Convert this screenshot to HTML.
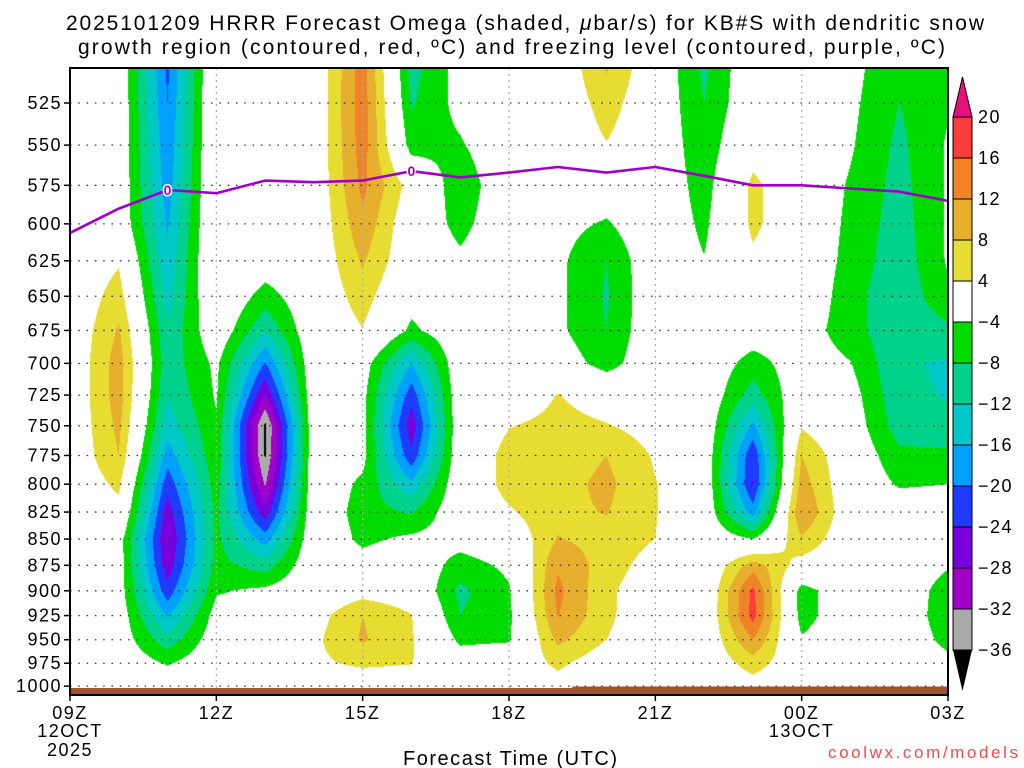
<!DOCTYPE html>
<html><head><meta charset="utf-8"><title>HRRR Omega</title>
<style>
html,body{margin:0;padding:0;background:#fff;}
#wrap{position:relative;width:1024px;height:768px;overflow:hidden;font-family:"Liberation Sans",sans-serif;}
#field{position:absolute;left:70px;top:68px;}
#ov{position:absolute;left:0;top:0;}
text{font-family:"Liberation Sans",sans-serif;fill:#000;}
.tk{letter-spacing:1.5px;}
</style></head>
<body>
<div id="wrap">
<canvas id="field" width="878" height="620"></canvas>
<svg id="ov" width="1024" height="768">
 <text x="66" y="30" font-size="21" textLength="918" lengthAdjust="spacing">2025101209 HRRR Forecast Omega (shaded, <tspan font-style="italic">μ</tspan>bar/s) for KB#S with dendritic snow</text>
 <text x="78" y="54" font-size="21" textLength="867" lengthAdjust="spacing">growth region (contoured, red, ºC) and freezing level (contoured, purple, ºC)</text>
 <g id="grid"></g>
 <g id="ground"></g>
 <g id="frz"></g>
 <g id="axes"></g>
 <g id="cbar"></g>
 <text x="403" y="765" font-size="20" textLength="214" lengthAdjust="spacing">Forecast Time (UTC)</text>
 <text x="828" y="758" font-size="17" textLength="190" lengthAdjust="spacing" style="fill:#f04a4a">coolwx.com/models</text>
</svg>
</div>
<script>
// ---- data ----
const hourLabels = ["09Z","10Z","11Z","12Z","13Z","14Z","15Z","16Z","17Z","18Z","19Z","20Z","21Z","22Z","23Z","00Z","01Z","02Z","03Z"];
const levels = [500,525,550,575,600,625,650,675,700,725,750,775,800,825,850,875,900,925,950,975,1000];
const yTickLabels = [525,550,575,600,625,650,675,700,725,750,775,800,825,850,875,900,925,950,975,1000];
const xTickHours = [0,3,6,9,12,15,18];
const xTickLabels = ["09Z","12Z","15Z","18Z","21Z","00Z","03Z"];
const cbarLevels = [20,16,12,8,4,-4,-8,-12,-16,-20,-24,-28,-32,-36];
// omega per hour column, values at levels 500..1000
const omega = [
 [0,0,0,0,0,0,0,0,0,0,0,0,0,0,0,0,0,0,0,0,0],
 [0,0,0,0,0,3.5,6,8.5,10,10,9,8,5,2.5,-1.5,-1.5,-1.5,-1,-1,0,0],
 [-21,-20,-19,-18,-16.5,-15,-13.5,-11.5,-10.5,-11.8,-14,-18,-22.5,-26,-28.2,-26.5,-22.5,-16.5,-10.5,-4.5,0],
 [2.5,2.5,2.5,2.5,2.5,2.5,1.5,0,-3,-3.5,-4.5,-5,-6,-7,-7,-6.5,-4.5,-2,-1,0,0],
 [0,0,0,0,0,-1,-6,-11.5,-20.3,-28,-37,-36.5,-32.5,-26.5,-18,-10,-3,0,0,0,0],
 [0,0,0,0,0,0,0,0,0,0,0,0,0,0,0,0,0,2,3,3,0],
 [14,14.3,14,13,11,8.5,6,3.8,-1.5,-2.5,-2.5,-2.5,-5,-6,-5,-2,2,8,8.5,5,0],
 [-10,-8.5,-6,2,0,0,-2,-5,-16,-22.5,-26.5,-23,-15,-8.5,-3,0,1,4.2,4.5,4.2,0],
 [-2,-2.5,-4.5,-7,-5.5,-3,0,0,0,0,0,0,0,0,-2,-6,-9,-8,-5,-1,0],
 [0,0,0,0,0,0,0,0,0,0,3.8,5.5,5.5,3.5,0,-3,-4.5,-5,-4.5,0,0],
 [0,0,0,0,-2.5,-3,-3,-3,-1,4.2,5.5,6,6.5,7,8.2,11.5,13,12.2,9,5,2],
 [9,6,3.8,-1,-4.5,-8,-8.5,-8,-6,1.5,4.3,8,9,8.2,6.5,6,5,5,4,1,0],
 [0,0,0,0,0,0,0,0,0,0,2,3.5,4.2,4.2,4,2,0.5,0,0,0,0],
 [-9,-8,-7,-6,-5,-3.8,-1,0,0,0,0,0,0,0,0,-1,-1,-1,-0.5,0,0],
 [0,0,2,5,5,3,0,-1,-6,-10,-17,-23.5,-24.3,-18,-4,10,17,17.5,12,6,2],
 [0,0,0,0,0,0,0,-1.5,-1,0,3.5,8,10,12.2,7.5,2,-6,-6,-3.5,0,0],
 [-2.5,-3,-3.5,-4.5,-5,-5.5,-6.5,-6.5,-3.8,-2,-1,0,0,0,0,0,0,0,0,0,0],
 [-7,-8,-9,-9.5,-10,-10.5,-11,-11,-11.5,-11,-10,-7,-4.5,-1,0,0,0,0,0,0,0],
 [-4.5,-4.5,-3.5,-3.5,-3.5,-3.5,-5,-9,-12.5,-12.3,-11,-7,-4,-1,0,-3.5,-6.5,-7,-5.5,-2.5,0]
];
const freezingLevel = [606,590,578,580,572,573,572,566,570,567,563.5,567,563.5,569,575,575,577,579,585];
const freezingLabelHours = [2,7];

// ---- geometry ----
const X0=70, X1=948, PTOP=68, PBOT=695;
const HW=(X1-X0)/18;
function xOf(h){return X0+h*HW;}
function yOf(p){return 103+905*Math.log(p/525);}
function pOf(y){return 525*Math.exp((y-103)/905);}
const bandColors=["#000000","#aaaaaa","#a000c8","#7800dc","#1e3cff","#00a0ff","#00c8c8","#00d28c","#00dc00","#ffffff","#e6dc32","#e6af2d","#f08228","#fa3c3c","#e8107f"];
const bandEdges=[-36,-32,-28,-24,-20,-16,-12,-8,-4,4,8,12,16,20];
function hexRgb(h){return [parseInt(h.slice(1,3),16),parseInt(h.slice(3,5),16),parseInt(h.slice(5,7),16)];}
const rgbCache=bandColors.map(hexRgb);
function bandIdx(v){let i=0;while(i<bandEdges.length&&v>=bandEdges[i])i++;return i;}

// ---- shaded field ----
(function(){
 const cv=document.getElementById('field');const ctx=cv.getContext('2d');
 const W=cv.width,H=cv.height;const img=ctx.createImageData(W,H);
 const nL=levels.length;
 for(let py=0;py<H;py++){
  const p=pOf(PTOP+py+0.5);
  let j=(p-levels[0])/25; if(j<0)j=0; if(j>nL-1)j=nL-1;
  const j0=Math.min(Math.floor(j),nL-2), fj=j-j0;
  for(let px=0;px<W;px++){
   let h=(px+0.5)/HW; if(h>18)h=18;
   const i0=Math.min(Math.floor(h),17), fi=h-i0;
   const a=omega[i0][j0],b=omega[i0+1][j0],c=omega[i0][j0+1],d=omega[i0+1][j0+1];
   const v=(a*(1-fi)+b*fi)*(1-fj)+(c*(1-fi)+d*fi)*fj;
   const col=rgbCache[bandIdx(v)];const k=(py*W+px)*4;
   img.data[k]=col[0];img.data[k+1]=col[1];img.data[k+2]=col[2];img.data[k+3]=255;
  }
 }
 ctx.putImageData(img,0,0);
})();

const NS="http://www.w3.org/2000/svg";
function mk(tag,attrs,parent){const e=document.createElementNS(NS,tag);for(const k in attrs)e.setAttribute(k,attrs[k]);parent.appendChild(e);return e;}

// ---- grid ----
const grid=document.getElementById('grid');
yTickLabels.forEach(p=>{
 const l=mk('line',{x1:X0,x2:X1,y1:yOf(p),y2:yOf(p),stroke:'#333','stroke-width':1.3,'stroke-dasharray':'1.5 6.8'},grid);
 
 
});
xTickHours.slice(1,-1).forEach(h=>{
 const l=mk('line',{x1:xOf(h),x2:xOf(h),y1:PTOP,y2:PBOT,stroke:'#aaa','stroke-width':1.2,'stroke-dasharray':'2 4'},grid);
 
 
});
// ground
const gr=document.getElementById('ground');
const g1=mk('rect',{x:X0,y:688,width:X1-X0,height:7,fill:'#a0522d'},gr);


const g2=mk('rect',{x:xOf(10.3),y:686.5,width:X1-xOf(10.3),height:3,fill:'#a0522d'},gr);



// ---- freezing level ----
const frz=document.getElementById('frz');
const pts=freezingLevel.map((p,i)=>xOf(i).toFixed(1)+','+yOf(p).toFixed(1)).join(' ');
const fl=mk('polyline',{points:pts,fill:'none',stroke:'#a000c8','stroke-width':2.6,'stroke-linejoin':'round'},frz);


freezingLabelHours.forEach(i=>{
 const t=mk('text',{x:xOf(i),y:yOf(freezingLevel[i])+5,'text-anchor':'middle','font-size':14,'font-weight':'bold',stroke:'#fff','stroke-width':3,'paint-order':'stroke',style:'fill:#a000c8'},frz);
 t.textContent='0';
 
 
});

// ---- axes ----
const ax=document.getElementById('axes');
const fr=mk('rect',{x:X0,y:PTOP,width:X1-X0,height:PBOT-PTOP,fill:'none',stroke:'#000','stroke-width':2},ax);


yTickLabels.forEach(p=>{
 const y=yOf(p);
 const tk=mk('line',{x1:X0-6,x2:X0,y1:y,y2:y,stroke:'#000','stroke-width':1.5},ax);
 
 
 const t=mk('text',{x:62,y:y+6,'text-anchor':'end','font-size':18,'class':'tk'},ax);
 t.textContent=String(p);
 
 
});
xTickHours.forEach((h,k)=>{
 const x=xOf(h);
 const tk=mk('line',{x1:x,x2:x,y1:PBOT,y2:PBOT+6,stroke:'#000','stroke-width':1.5},ax);
 
 
 const t=mk('text',{x:x,y:719,'text-anchor':'middle','font-size':18,'class':'tk'},ax);
 t.textContent=xTickLabels[k];
 
 
});
[[xOf(0),737,'12OCT'],[xOf(0),756,'2025'],[xOf(15),737,'13OCT']].forEach(d=>{
 const t=mk('text',{x:d[0],y:d[1],'text-anchor':'middle','font-size':18,'class':'tk'},ax);
 t.textContent=d[2];
 
 
});

// ---- colorbar ----
const cb=document.getElementById('cbar');
const CX=953,CW=19,CT=117,CS=41;
const cbTop=mk('polygon',{points:`${CX},${CT} ${CX+CW},${CT} ${CX+CW/2},77`,fill:bandColors[14],stroke:'#000','stroke-width':1},cb);


for(let k=0;k<13;k++){
 const r=mk('rect',{x:CX,y:CT+k*CS,width:CW,height:CS,fill:bandColors[13-k],stroke:'#000','stroke-width':1},cb);
 
 
}
const cbBot=mk('polygon',{points:`${CX},${CT+13*CS} ${CX+CW},${CT+13*CS} ${CX+CW/2},${CT+13*CS+41}`,fill:'#000'},cb);


cbarLevels.forEach((v,k)=>{
 const t=mk('text',{x:978,y:CT+k*CS+6,'font-size':18,'class':'tk'},cb);
 t.textContent=v<0?'\u2212'+Math.abs(v):String(v);
 
 
});
</script>
</body></html>
